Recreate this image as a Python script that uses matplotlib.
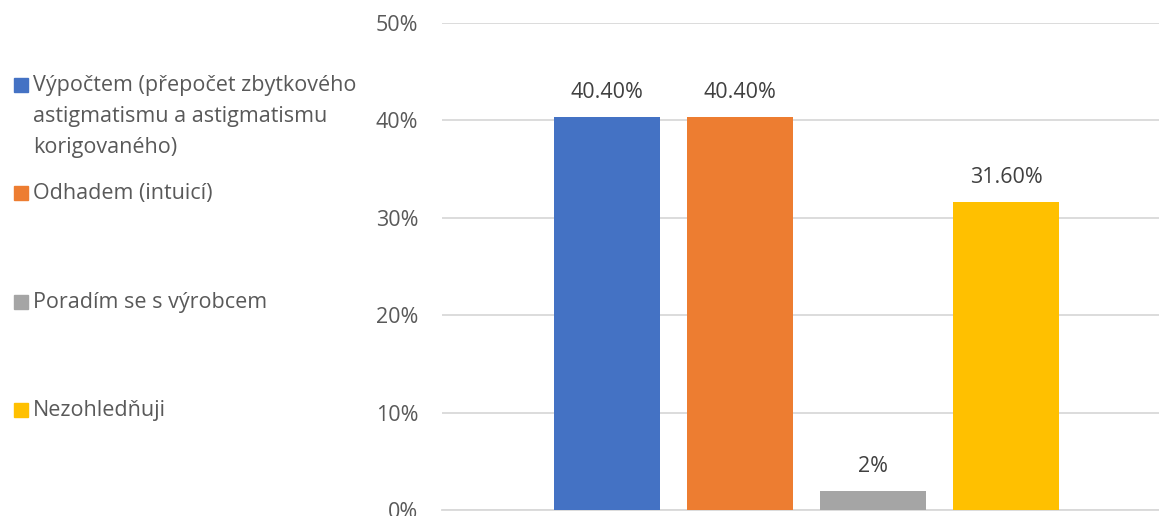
import matplotlib
matplotlib.use("Agg")
import matplotlib.pyplot as plt
from matplotlib.patches import Rectangle

plt.rcParams['font.family'] = ['Open Sans', 'DejaVu Sans']

# Survey answers: how residual astigmatism is taken into account
categories = [
    "Výpočtem (přepočet zbytkového\nastigmatismu a astigmatismu\nkorigovaného)",
    "Odhadem (intuicí)",
    "Poradím se s výrobcem",
    "Nezohledňuji",
]
values = [40.4, 40.4, 2.0, 31.6]
value_labels = ["40.40%", "40.40%", "2%", "31.60%"]
colors = ["#4472C4", "#ED7D31", "#A5A5A5", "#FFC000"]
y_ticks = [0, 10, 20, 30, 40, 50]
y_tick_labels = ["0%", "10%", "20%", "30%", "40%", "50%"]

W, H = 1159, 516
fig = plt.figure(figsize=(W / 100, H / 100), dpi=100)

# Plot area (extends slightly past the right edge of the canvas)
left_px, right_px = 442, 1171
bottom_px, top_px = 510, 23
ax = fig.add_axes([left_px / W, (H - bottom_px) / H,
                   (right_px - left_px) / W, (bottom_px - top_px) / H])

x = list(range(len(values)))
bars = ax.bar(x, values, width=0.79, color=colors, zorder=3)

ax.set_xlim(-1.24, 4.24)
ax.set_ylim(0, 50)
ax.set_yticks(y_ticks)
ax.set_yticklabels(y_tick_labels)
ax.set_xticks([])
ax.grid(axis='y', color='#D9D9D9', linewidth=1.3, zorder=0)
for side in ['top', 'right', 'left']:
    ax.spines[side].set_visible(False)
ax.spines['bottom'].set_color('#D9D9D9')
ax.spines['bottom'].set_linewidth(1.3)
ax.tick_params(axis='y', length=0, pad=17, labelsize=15.5, labelcolor='#595959')

for rect, lab in zip(bars, value_labels):
    ax.annotate(lab, (rect.get_x() + rect.get_width() / 2, rect.get_height()),
                xytext=(0, 17.5), textcoords='offset points',
                ha='center', va='center', fontsize=15.5, color='#404040')

# Legend drawn on the left side
legend_y_px = [85, 193, 302, 410]
for lab, col, ypx in zip(categories, colors, legend_y_px):
    fig.patches.append(Rectangle((14 / W, (H - ypx - 7) / H), 14 / W, 14 / H,
                                 transform=fig.transFigure, color=col,
                                 figure=fig))
    fig.text(33 / W, (H - ypx + 10) / H, lab, ha='left', va='top',
             fontsize=15.5, color='#595959', linespacing=1.62)

fig.savefig("out.png", dpi=100)
